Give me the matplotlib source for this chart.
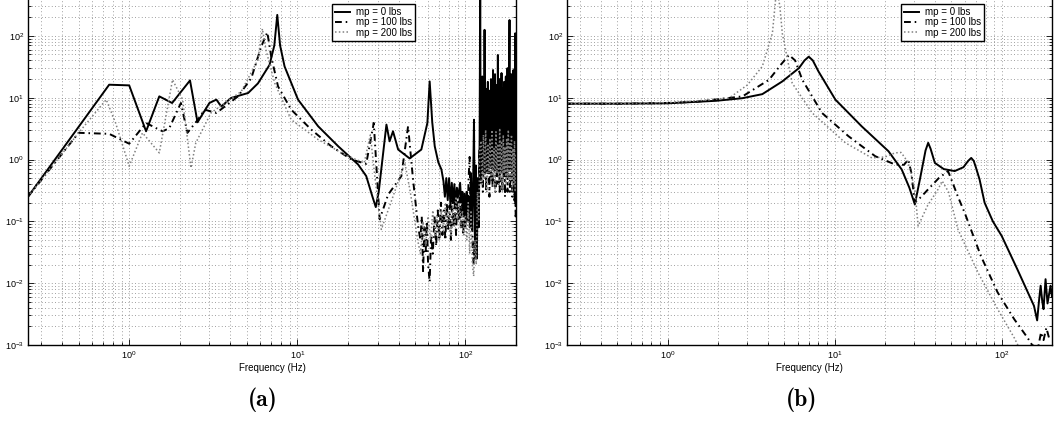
import os
import numpy as np
import matplotlib
import matplotlib.pyplot as plt
from matplotlib.font_manager import FontProperties
from matplotlib.ticker import LogLocator, NullFormatter

plt.rcParams['font.family'] = ['Liberation Sans', 'DejaVu Sans']

labels = ['mp = 0 lbs', 'mp = 100 lbs', 'mp = 200 lbs']

# panel (a): measured response
a0_f = [0.25, 0.76, 1.0, 1.26, 1.51, 1.80, 2.30, 2.55, 3.0, 3.3, 3.53, 4.04, 5.1, 5.83, 6.84, 7.3, 7.6,
        7.9, 8.4, 10.1, 13.3, 17.5, 23.0, 25.7, 28.0, 29.3, 30.5, 33.9, 35.4, 37.1, 39.8, 46.6, 54.7,
        59.4, 61.3, 63.5, 65.7, 69.0, 72.0,
        74, 75.5, 77, 78.5, 80, 81.5, 83, 84.5, 86, 87.5, 89, 91, 93, 94.5, 96, 97.5, 99, 100.5, 102,
        103.5, 105, 106.5, 108, 109.5, 111, 112.5, 114, 115.5, 117, 118.5, 120, 121.5, 122.5, 123.3,
        124, 125, 126, 127, 128, 129, 130, 131, 132, 133, 134, 135, 136, 137, 138, 139, 140, 141, 142,
        143, 144, 145, 146, 147, 148, 149, 150, 151, 152, 153, 154, 155, 156, 157, 158, 159, 160, 161,
        162, 163, 164, 165, 166, 167, 168, 169, 170, 171, 172, 173, 174, 175, 176, 177, 178, 179, 180,
        181, 182, 183, 184, 185, 186, 187, 188, 189, 190, 191, 192, 193, 194, 195, 196, 197, 198, 199, 200]
a0_v = [0.25, 16.2, 15.8, 2.86, 10.5, 8.2, 19.0, 4.0, 8.2, 9.3, 7.2, 9.9, 11.9, 17.0, 34.0, 70, 218,
        70, 32, 9.3, 3.45, 1.64, 0.83, 0.54, 0.25, 0.17, 0.3, 3.67, 1.97, 2.86, 1.45, 1.04, 1.45,
        3.9, 18.3, 4.0, 1.64, 0.9, 0.69,
        0.45, 0.25, 0.5, 0.22, 0.5, 0.18, 0.42, 0.2, 0.4, 0.16, 0.35, 0.25, 0.42, 0.2, 0.3, 0.12, 0.28, 0.1, 0.3,
        0.15, 0.25, 0.08, 0.6, 0.07, 0.3, 4.4, 0.03, 0.8, 0.025, 0.5, 0.08, 2.0, 900, 0.5,
        15, 0.9, 22, 1.1, 9, 0.7, 125, 1.0, 14, 0.8, 11, 1.3, 18, 0.7, 9, 1.1, 13, 0.8, 20,
        1.4, 10, 0.9, 28, 1.2, 12, 0.8, 24, 1.5, 9, 0.9, 16, 1.2, 49, 0.8, 12, 1.3, 20, 0.7,
        10, 1.1, 25, 0.9, 14, 1.4, 9, 0.8, 18, 1.2, 11, 0.7, 22, 1.0, 13, 0.9, 30, 1.3, 12,
        0.8, 20, 180, 1.1, 15, 0.9, 24, 1.2, 11, 0.5, 17, 1.0, 28, 0.4, 12, 0.3, 19, 110, 0.2, 14]

a1_f = [0.25, 0.50, 0.76, 1.0, 1.26, 1.45, 1.58, 1.73, 2.03, 2.22, 2.56, 2.81, 3.3, 4.44, 5.33, 6.1,
        6.63, 7.0, 7.68, 9.2, 12.1, 15.9, 21.0, 25.7, 28.5, 30.9, 34.7, 41.6, 45.6, 48.8, 52.3,
        54, 55, 56, 57, 58, 59, 60, 61.3, 62.5, 64, 65.5, 67, 68.5, 70, 71.5, 73, 74.5, 76, 77.5, 79,
        80.5, 82, 83.5, 85, 86.5, 88, 89.5, 91, 92.5, 94, 95.5, 97, 98.5, 100, 101.5, 103, 104.5, 106,
        107.5, 109, 110.5, 112, 113.5, 115, 117, 119, 121, 122.5,
        124, 125.5, 127, 128.5, 130, 131.5, 133, 134.5, 136, 137.5, 139, 140.5, 142, 143.5, 145, 146.5,
        148, 149.5, 151, 152.5, 154, 155.5, 157, 158.5, 160, 161.5, 163, 164.5, 166, 167.5, 169, 170.5,
        172, 173.5, 175, 176.5, 178, 179.5, 181, 182.5, 184, 185.5, 187, 188.5, 190, 191.5, 193, 194.5,
        196, 197.5, 199, 200]
a1_v = [0.25, 2.7, 2.6, 1.8, 3.9, 3.2, 2.86, 3.2, 8.2, 2.7, 4.4, 6.4, 5.66, 10.5, 20.8, 67,
        114, 46, 15.2, 6.4, 3.05, 1.64, 1.0, 0.85, 3.9, 0.108, 0.27, 0.54, 3.45, 0.48, 0.084,
        0.05, 0.12, 0.015, 0.08, 0.03, 0.1, 0.02, 0.0105, 0.06, 0.03, 0.12, 0.04, 0.15, 0.05, 0.2, 0.06,
        0.15, 0.05, 0.2, 0.07, 0.18, 0.05, 0.25, 0.08, 0.2, 0.06, 0.3, 0.1, 0.25, 0.08, 0.2, 0.06, 0.15,
        0.08, 0.2, 0.1, 0.5, 1.1, 0.1, 0.3, 0.04, 0.02, 0.05, 0.025, 0.3, 0.1, 1.5, 0.5,
        0.4, 5, 0.3, 8, 0.5, 4, 0.3, 6, 0.6, 3, 0.25, 7, 0.5, 4, 0.35, 9, 0.6, 5, 0.3, 6, 0.5, 10,
        0.4, 5, 0.3, 7, 0.6, 4, 0.3, 8, 0.5, 5, 0.25, 12, 0.5, 4, 0.3, 7, 0.6, 9, 0.3, 5, 0.5, 6,
        0.25, 4, 0.5, 8, 0.2, 5, 0.12, 3]

a2_f = [0.25, 0.50, 0.73, 0.83, 1.0, 1.2, 1.51, 1.81, 2.08, 2.33, 2.49, 3.07, 4.64, 5.83, 6.2, 6.5,
        7.34, 9.2, 13.3, 19.1, 25.0, 27.2, 29.0, 31.6, 36, 43.6, 47, 52,
        54, 56, 58, 60, 62, 64, 66, 68, 70, 72, 74, 76, 78, 80, 82, 84, 86, 88, 90, 92, 94, 96, 98,
        100, 102, 104, 106, 108, 110, 112, 114, 116, 118, 120, 122,
        124, 126, 128, 130, 132, 134, 136, 138, 140, 142, 144, 146, 148, 150, 152, 154, 156, 158, 160,
        162, 164, 166, 168, 170, 172, 174, 176, 178, 180, 182, 184, 186, 188, 190, 192, 194, 196, 198, 200]
a2_v = [0.25, 2.7, 9.3, 3.9, 0.78, 2.7, 1.28, 19.5, 9.3, 0.73, 1.86, 5.7, 12.6, 41, 130, 60,
        17.2, 4.4, 2.1, 1.2, 0.88, 2.5, 0.5, 0.074, 0.2, 0.89, 0.3, 0.05,
        0.03, 0.1, 0.04, 0.12, 0.05, 0.15, 0.06, 0.12, 0.05, 0.15, 0.07, 0.2, 0.08, 0.15, 0.06, 0.18,
        0.08, 0.25, 0.1, 0.2, 0.08, 0.15, 0.06, 0.12, 0.05, 0.2, 0.03, 0.15, 0.02, 0.013, 0.05, 0.02,
        0.3, 0.1, 1.5,
        2, 0.4, 2.5, 0.5, 3, 0.3, 1.8, 0.6, 2.2, 0.4, 3, 0.5, 1.5, 0.3, 2.8, 0.6, 1.8, 0.4, 3.2,
        0.5, 2, 0.3, 2.5, 0.6, 1.6, 0.4, 2.2, 0.5, 3, 0.4, 1.8, 0.5, 2.5, 0.3, 1.5, 0.4, 2, 0.3, 1.2]

# panel (b): model response
b0_f = [0.25, 0.5, 1.0, 1.95, 2.8, 3.69, 4.86, 6.11, 6.6, 7.0, 7.4, 8.0, 10.1, 14.5, 21.0, 25.2, 28.0,
        30.2, 32.5, 35.0, 36.3, 37.5, 39.8, 45.0, 52.3, 59.0, 63.0, 65.7, 68.0, 70.0, 73.7, 79.0, 88.5,
        100, 124, 156, 163, 167, 171, 175, 178, 183, 188, 196, 200]
b0_v = [8.0, 8.0, 8.1, 8.9, 9.8, 11.4, 18.3, 30, 40, 46, 40, 26.6, 9.3, 3.45, 1.36, 0.69, 0.35,
        0.188, 0.5, 1.4, 1.86, 1.5, 0.88, 0.7, 0.65, 0.75, 0.95, 1.06, 0.95, 0.75, 0.476, 0.2, 0.1,
        0.058, 0.0168, 0.0043, 0.0025, 0.005, 0.0091, 0.005, 0.0038, 0.0116, 0.0047, 0.0091, 0.006]

b1_f = [0.25, 0.5, 1.0, 1.5, 2.81, 4.05, 4.8, 5.33, 5.8, 6.4, 8.4, 12.1, 17.5, 23.0, 26.0, 27.6, 28.8,
        30.2, 33.0, 36.3, 42.0, 47.7, 49.9, 54.7, 60.0, 75.0, 94.5, 119, 143, 152, 165, 172, 178, 185, 192]
b1_v = [8.0, 8.0, 8.2, 8.6, 10.5, 19.5, 35, 49, 40, 19.5, 5.66, 2.38, 1.13, 0.83, 0.82, 1.0, 0.6,
        0.2, 0.25, 0.33, 0.5, 0.65, 0.48, 0.25, 0.138, 0.0276, 0.0071, 0.0026, 0.0013, 0.001, 0.0009,
        0.0016, 0.0012, 0.0019, 0.0013]

b2_f = [0.25, 0.5, 1.0, 1.5, 2.34, 3.0, 3.69, 4.24, 4.5, 4.7, 4.86, 5.57, 7.34, 11.6, 16.7, 20.0,
        23.0, 25.0, 27.5, 30.2, 31.6, 36.0, 41.6, 44.0, 48.0, 54.7, 72, 94.5, 119, 130]
b2_v = [8.0, 8.1, 8.3, 8.9, 9.9, 16, 32, 110, 600, 300, 110, 17.2, 5.66, 1.86, 1.06, 1.1,
        1.28, 1.3, 0.9, 0.33, 0.084, 0.18, 0.33, 0.45, 0.3, 0.074, 0.015, 0.0038, 0.0013, 0.0008]

panels = [
    ((a0_f, a0_v), (a1_f, a1_v), (a2_f, a2_v)),
    ((b0_f, b0_v), (b1_f, b1_v), (b2_f, b2_v)),
]
panel_tags = ['(a)', '(b)']

# Computer Modern bold for the sub-figure tags
tag_font = FontProperties(fname=os.path.join(matplotlib.get_data_path(), 'fonts', 'ttf', 'cmb10.ttf'),
                          size=17)

W, H = 1055, 421
fig = plt.figure(figsize=(W / 100, H / 100), dpi=100)

# axes extend past the top edge: the original is cropped above 10^2.5
axes_px = [(28, 488), (567, 485)]
tag_x = [263, 802]
legend_px = [(332, 4), (901, 4)]
styles = [dict(color='black', lw=1.4, ls='-'),
          dict(color='black', lw=1.4, ls=(0, (3.5, 2, 0.8, 2))),
          dict(color='0.5', lw=1.1, ls=(0, (1, 1.5)))]

for k, curves in enumerate(panels):
    left, width = axes_px[k]
    ax = fig.add_axes([left / W, (H - 345) / H, width / W, 371 / H])
    for (f, v), st, lab in zip(curves, styles, labels):
        ax.plot(f, v, label=lab, **st)
    ax.set_xscale('log')
    ax.set_yscale('log')
    ax.set_xlim(0.25, 200)
    ax.set_ylim(1e-3, 1e3)
    for axis in (ax.xaxis, ax.yaxis):
        axis.set_minor_locator(LogLocator(base=10, subs=np.arange(2, 10), numticks=100))
        axis.set_minor_formatter(NullFormatter())
    ax.set_xticks([1, 10, 100])
    ax.set_yticks([1e-3, 1e-2, 1e-1, 1, 10, 100])
    ax.grid(True, which='both', color='0.5', lw=0.6, ls=(0, (1, 3)))
    ax.tick_params(which='both', direction='in', top=True, right=True, labelsize=6.5, width=0.6)
    ax.tick_params(which='major', length=4, pad=3)
    ax.tick_params(which='minor', length=2)
    for s in ax.spines.values():
        s.set_linewidth(1.0)
    ax.set_xlabel('Frequency (Hz)', fontsize=7, labelpad=1.5)
    lx, ly = legend_px[k]
    leg = ax.legend(loc='upper left', bbox_to_anchor=(lx / W, 1 - ly / H),
                    bbox_transform=fig.transFigure, fontsize=7, fancybox=False,
                    framealpha=1, edgecolor='black', borderpad=0.3, labelspacing=0.05,
                    handlelength=1.6, handletextpad=0.6, borderaxespad=0)
    leg.get_frame().set_linewidth(1.0)
    fig.text(tag_x[k] / W, 1 - 400 / H, panel_tags[k], fontproperties=tag_font,
             ha='center', va='center')

fig.savefig('out.png', dpi=100)
